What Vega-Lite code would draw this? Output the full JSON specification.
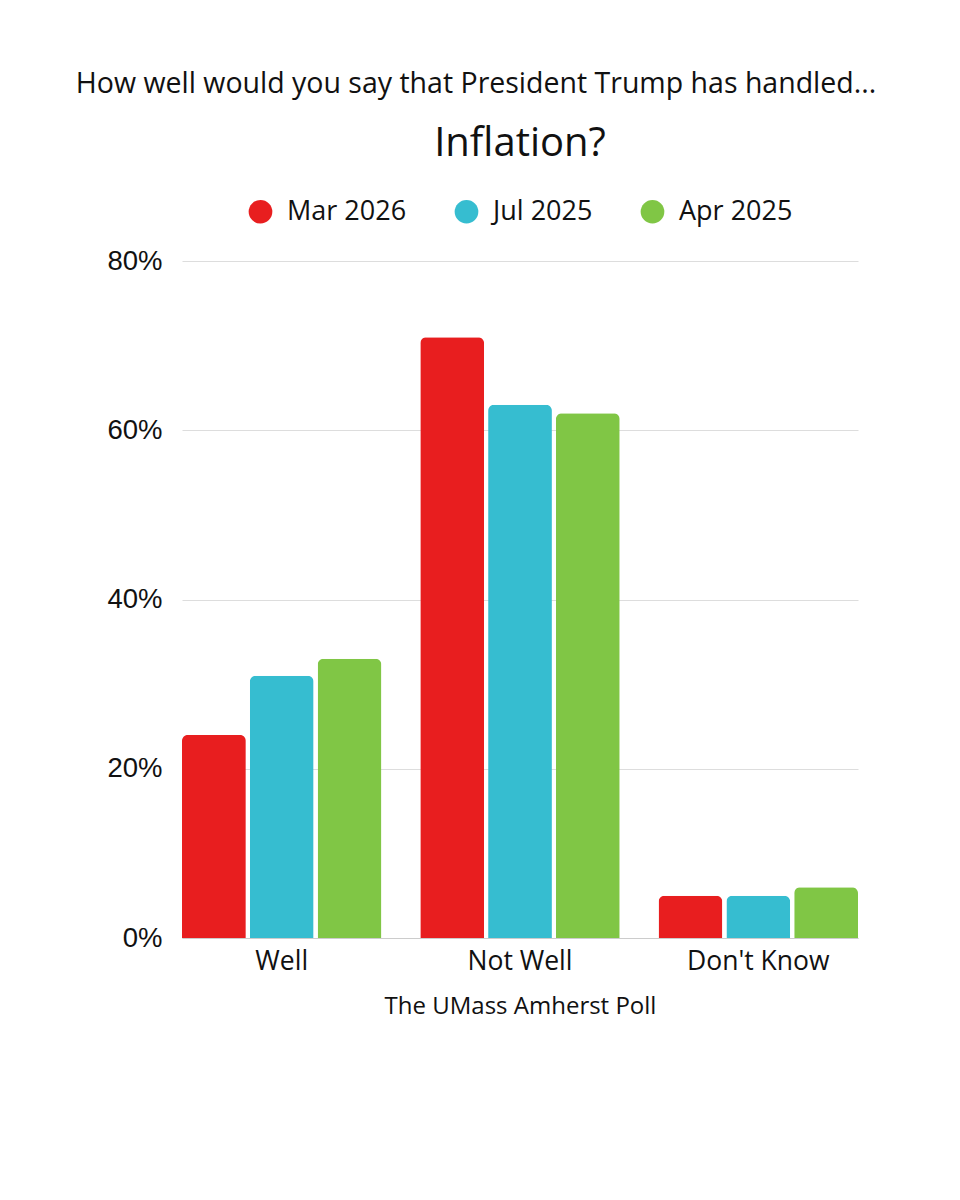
{
  "$schema": "https://vega.github.io/schema/vega-lite/v6.json",
  "autosize": {"type": "none"},
  "padding": {"left": 182, "top": 261, "right": 102, "bottom": 262},
  "width": 676,
  "height": 677,
  "background": "white",
  "title": {
    "text": "How well would you say that President Trump has handled...",
    "anchor": "middle",
    "frame": "group",
    "dx": -44,
    "offset": 26,
    "font": "Open Sans, sans-serif",
    "fontSize": 28.5,
    "fontWeight": "normal",
    "color": "#111"
  },
  "data": {
    "values": [
      {"answer": "Well", "wave": "Mar 2026", "pct": 24},
      {"answer": "Well", "wave": "Jul 2025", "pct": 31},
      {"answer": "Well", "wave": "Apr 2025", "pct": 33},
      {"answer": "Not Well", "wave": "Mar 2026", "pct": 71},
      {"answer": "Not Well", "wave": "Jul 2025", "pct": 63},
      {"answer": "Not Well", "wave": "Apr 2025", "pct": 62},
      {"answer": "Don't Know", "wave": "Mar 2026", "pct": 5},
      {"answer": "Don't Know", "wave": "Jul 2025", "pct": 5},
      {"answer": "Don't Know", "wave": "Apr 2025", "pct": 6}
    ]
  },
  "mark": {"type": "bar", "cornerRadiusTopLeft": 6, "cornerRadiusTopRight": 6},
  "encoding": {
    "x": {
      "field": "answer",
      "type": "nominal",
      "sort": ["Well", "Not Well", "Don't Know"],
      "scale": {"paddingInner": 0.163, "paddingOuter": 0},
      "title": "The UMass Amherst Poll",
      "axis": {
        "labelAngle": 0,
        "labelFont": "Open Sans, sans-serif",
        "labelFontSize": 26.5,
        "labelColor": "#111",
        "labelPadding": 10,
        "ticks": false,
        "domainColor": "#cccccc",
        "titleFont": "Open Sans, sans-serif",
        "titleFontSize": 24,
        "titleFontWeight": "normal",
        "titleColor": "#111",
        "titlePadding": 20
      }
    },
    "xOffset": {
      "field": "wave",
      "type": "nominal",
      "sort": ["Mar 2026", "Jul 2025", "Apr 2025"],
      "scale": {"paddingInner": 0.059, "paddingOuter": 0}
    },
    "y": {
      "field": "pct",
      "type": "quantitative",
      "title": null,
      "scale": {"domain": [0, 80]},
      "axis": {
        "values": [0, 20, 40, 60, 80],
        "labelExpr": "datum.value + '%'",
        "labelFont": "Liberation Sans, Arial, sans-serif",
        "labelFontSize": 27.5,
        "labelColor": "#111",
        "labelPadding": 20,
        "ticks": false,
        "domain": false,
        "gridColor": "#dddddd"
      }
    },
    "color": {
      "field": "wave",
      "type": "nominal",
      "sort": ["Mar 2026", "Jul 2025", "Apr 2025"],
      "scale": {
        "domain": ["Mar 2026", "Jul 2025", "Apr 2025"],
        "range": ["#e81e1f", "#36bdd0", "#80c645"]
      },
      "legend": {
        "title": "Inflation?",
        "orient": "top",
        "direction": "horizontal",
        "titleOrient": "top",
        "titleAnchor": "middle",
        "titleFont": "Open Sans, sans-serif",
        "titleFontSize": 40,
        "titleFontWeight": "normal",
        "titleColor": "#111",
        "titlePadding": 34,
        "titleLimit": 400,
        "symbolType": "circle",
        "symbolSize": 560,
        "symbolStrokeWidth": 0,
        "labelFont": "Open Sans, sans-serif",
        "labelFontSize": 27,
        "labelColor": "#111",
        "labelOffset": 13,
        "labelLimit": 300,
        "columnPadding": 46,
        "offset": 36
      }
    }
  },
  "config": {
    "view": {"stroke": null},
    "legend": {"layout": {"top": {"anchor": "middle"}}}
  }
}
